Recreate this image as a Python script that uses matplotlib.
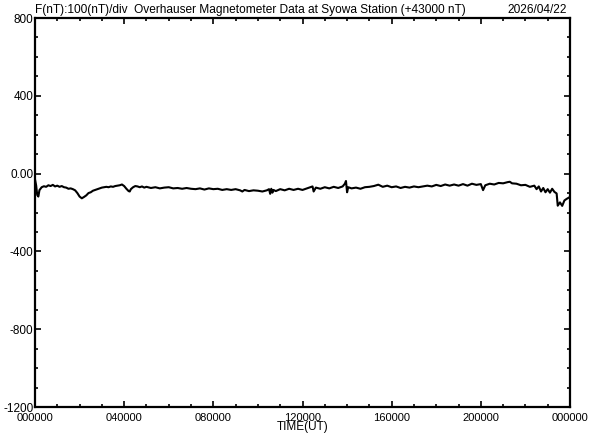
import matplotlib
matplotlib.use("Agg")
import matplotlib.pyplot as plt
from matplotlib.ticker import MultipleLocator

# hours since 00:00 UT and total field offset from 43000 nT
hours = [0.00, 0.05, 0.10, 0.15, 0.20, 0.30, 0.40, 0.50, 0.60, 0.70, 0.80, 0.90,
         1.00, 1.10, 1.20, 1.30, 1.40, 1.50, 1.60, 1.70, 1.80, 1.90, 2.00, 2.10,
         2.20, 2.30, 2.40, 2.50, 2.60, 2.70, 2.80, 2.90, 3.00, 3.10, 3.20, 3.30,
         3.40, 3.50, 3.60, 3.70, 3.80, 3.90, 4.00, 4.10, 4.20, 4.25, 4.30, 4.40,
         4.50, 4.60, 4.70, 4.80, 4.90, 5.00, 5.20, 5.40, 5.60, 5.80, 6.00, 6.20,
         6.40, 6.60, 6.80, 7.00, 7.20, 7.40, 7.60, 7.80, 8.00, 8.20, 8.40, 8.60,
         8.80, 9.00, 9.20, 9.30, 9.40, 9.60, 9.80, 10.00, 10.20, 10.40, 10.50, 10.55,
         10.60, 10.65, 10.70, 10.80, 11.00, 11.20, 11.40, 11.60, 11.80, 12.00, 12.20, 12.45,
         12.50, 12.60, 12.80, 13.00, 13.20, 13.40, 13.60, 13.80, 13.90, 13.95, 14.00, 14.05,
         14.20, 14.40, 14.60, 14.80, 15.00, 15.20, 15.40, 15.60, 15.80, 16.00, 16.20, 16.40,
         16.60, 16.80, 17.00, 17.20, 17.40, 17.60, 17.80, 18.00, 18.20, 18.40, 18.60, 18.80,
         19.00, 19.20, 19.40, 19.60, 19.80, 20.00, 20.10, 20.20, 20.40, 20.60, 20.80, 21.00,
         21.20, 21.30, 21.40, 21.60, 21.80, 22.00, 22.20, 22.40, 22.50, 22.60, 22.70, 22.80,
         22.90, 23.00, 23.10, 23.20, 23.30, 23.40, 23.45, 23.55, 23.65, 23.75, 23.85, 24.00]
field = [-30, -60, -110, -118, -85, -70, -65, -68, -60, -64, -58, -66,
         -62, -68, -64, -70, -72, -78, -76, -80, -86, -100, -118, -127,
         -120, -112, -100, -96, -88, -84, -80, -76, -72, -70, -68, -70,
         -66, -68, -64, -62, -60, -56, -64, -78, -90, -92, -80, -70,
         -64, -66, -70, -66, -72, -68, -74, -70, -76, -72, -70, -76,
         -74, -78, -74, -78, -80, -76, -82, -76, -80, -78, -84, -80,
         -84, -80, -86, -92, -84, -90, -86, -88, -92, -86, -80, -104,
         -78, -98, -84, -90, -80, -86, -78, -84, -78, -84, -76, -66,
         -92, -72, -78, -70, -76, -68, -74, -66, -52, -38, -96, -70,
         -76, -72, -78, -70, -68, -64, -57, -68, -62, -70, -66, -74,
         -68, -72, -66, -70, -66, -62, -66, -58, -64, -56, -62, -56,
         -62, -54, -62, -52, -58, -54, -85, -60, -52, -56, -48, -50,
         -44, -42, -50, -52, -60, -58, -68, -62, -80, -66, -92, -74,
         -96, -80, -98, -78, -94, -102, -165, -148, -166, -138, -130, -120]

y_ticks = [800, 400, 0, -400, -800, -1200]
y_labels = ["800", "400", "0.00", "-400", "-800", "-1200"]
x_ticks = [0, 4, 8, 12, 16, 20, 24]
x_labels = ["000000", "040000", "080000", "120000", "160000", "200000", "000000"]

plt.rcParams['font.family'] = ['Liberation Sans', 'DejaVu Sans']

fig = plt.figure(figsize=(5.92, 4.4), dpi=100)
ax = fig.add_axes([35 / 592, 1 - 407 / 440, 535 / 592, 389 / 440])

ax.plot(hours, field, color="black", linewidth=1.5)

ax.set_xlim(0, 24)
ax.set_ylim(-1200, 800)
ax.set_xticks(x_ticks)
ax.set_xticklabels(x_labels, fontsize=8)
ax.set_yticks(y_ticks)
ax.set_yticklabels(y_labels, fontsize=8.5)
ax.xaxis.set_minor_locator(MultipleLocator(1))
ax.yaxis.set_minor_locator(MultipleLocator(100))

ax.tick_params(which="both", direction="in", top=True, right=True, width=1.2)
ax.tick_params(which="major", length=4.5)
ax.tick_params(which="minor", length=2.5)
ax.tick_params(axis="y", which="major", pad=1)
ax.tick_params(axis="x", which="major", pad=4)
for sp in ax.spines.values():
    sp.set_linewidth(1.6)

ax.set_xlabel("TIME(UT)", fontsize=8.5, labelpad=-1)

ax.text(0.0, 1.005, "F(nT):100(nT)/div  Overhauser Magnetometer Data at Syowa Station (+43000 nT)",
        transform=ax.transAxes, ha="left", va="bottom", fontsize=8.6)
ax.text(0.995, 1.005, "2026/04/22", transform=ax.transAxes, ha="right", va="bottom",
        fontsize=8.6)

fig.savefig("out.png", dpi=100)
